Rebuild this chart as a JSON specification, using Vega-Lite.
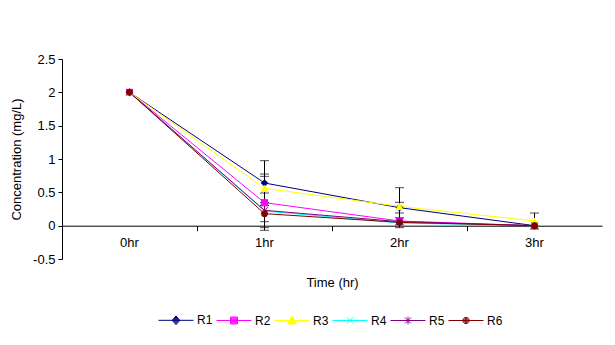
{
  "$schema": "https://vega.github.io/schema/vega-lite/v6.json",
  "width": 540,
  "height": 200,
  "autosize": "none",
  "padding": {"left": 62, "top": 59, "right": 13, "bottom": 86},
  "background": "white",
  "config": {
    "view": {"stroke": null},
    "font": "Liberation Sans",
    "axis": {"labelFont": "Liberation Sans", "titleFont": "Liberation Sans", "labelFontSize": 13, "titleFontSize": 13, "titleFontWeight": "normal", "labelColor": "black", "titleColor": "black", "domainColor": "black", "tickColor": "black", "grid": false}
  },
  "datasets": {
    "pts": [
      {"series": "R1", "time": "0hr", "conc": 2.0},
      {"series": "R1", "time": "1hr", "conc": 0.64},
      {"series": "R1", "time": "2hr", "conc": 0.27},
      {"series": "R1", "time": "3hr", "conc": 0.0},
      {"series": "R2", "time": "0hr", "conc": 2.0},
      {"series": "R2", "time": "1hr", "conc": 0.345},
      {"series": "R2", "time": "2hr", "conc": 0.07},
      {"series": "R2", "time": "3hr", "conc": 0.0},
      {"series": "R3", "time": "0hr", "conc": 2.0},
      {"series": "R3", "time": "1hr", "conc": 0.56},
      {"series": "R3", "time": "2hr", "conc": 0.29},
      {"series": "R3", "time": "3hr", "conc": 0.07},
      {"series": "R4", "time": "0hr", "conc": 2.0},
      {"series": "R4", "time": "1hr", "conc": 0.22},
      {"series": "R4", "time": "2hr", "conc": 0.04},
      {"series": "R4", "time": "3hr", "conc": 0.0},
      {"series": "R5", "time": "0hr", "conc": 2.0},
      {"series": "R5", "time": "1hr", "conc": 0.23},
      {"series": "R5", "time": "2hr", "conc": 0.06},
      {"series": "R5", "time": "3hr", "conc": 0.0},
      {"series": "R6", "time": "0hr", "conc": 2.0},
      {"series": "R6", "time": "1hr", "conc": 0.18},
      {"series": "R6", "time": "2hr", "conc": 0.05},
      {"series": "R6", "time": "3hr", "conc": 0.0}
    ],
    "err": [
      {"series": "R1", "time": "1hr", "lo": 0.305, "hi": 0.975},
      {"series": "R3", "time": "1hr", "lo": 0.345, "hi": 0.775},
      {"series": "R2", "time": "1hr", "lo": -0.07, "hi": 0.74},
      {"series": "R5", "time": "1hr", "lo": -0.03, "hi": 0.49},
      {"series": "R6", "time": "1hr", "lo": 0.06, "hi": 0.3},
      {"series": "R3", "time": "2hr", "lo": 0.01, "hi": 0.57},
      {"series": "R1", "time": "2hr", "lo": 0.19, "hi": 0.35},
      {"series": "R6", "time": "2hr", "lo": -0.03, "hi": 0.12},
      {"series": "R3", "time": "3hr", "lo": -0.05, "hi": 0.19}
    ]
  },
  "resolve": {"axis": {"x": "independent"}},
  "layer": [
    {
      "data": {"name": "pts"},
      "mark": {"type": "line", "strokeWidth": 1},
      "encoding": {
        "x": {"field": "time", "type": "nominal", "sort": ["0hr", "1hr", "2hr", "3hr"],
              "scale": {"paddingInner": 0, "paddingOuter": 0},
              "axis": {"orient": "bottom", "title": "Time (hr)", "offset": -33.3, "ticks": false, "labelAngle": 0, "labelPadding": 11, "titlePadding": 27}},
        "y": {"field": "conc", "type": "quantitative",
              "scale": {"domain": [-0.5, 2.5], "nice": false, "zero": false},
              "axis": {"title": "Concentration (mg/L)", "values": [-0.5, 0, 0.5, 1, 1.5, 2, 2.5], "tickCount": 7, "labelOverlap": false, "tickSize": 4, "labelPadding": 3, "titlePadding": 9, "labelExpr": "datum.value < 0 ? '-' + format(-datum.value, '') : format(datum.value, '')"}},
        "stroke": {"field": "series", "type": "nominal",
                   "scale": {"domain": ["R1", "R2", "R3", "R4", "R5", "R6"], "range": ["#000080", "#FF00FF", "#FFFF00", "#00FFFF", "#800080", "#800000"]}}
      }
    },
    {
      "data": {"name": "err"},
      "mark": {"type": "rule", "color": "black", "strokeWidth": 1},
      "encoding": {
        "x": {"field": "time", "type": "nominal", "sort": ["0hr", "1hr", "2hr", "3hr"],
              "axis": {"orient": "bottom", "title": null, "labels": false, "domain": false, "bandPosition": 0, "tickSize": 5, "offset": -33.3}},
        "y": {"field": "lo", "type": "quantitative"},
        "y2": {"field": "hi"}
      }
    },
    {
      "data": {"name": "err"},
      "mark": {"type": "tick", "color": "black", "size": 9, "thickness": 1},
      "encoding": {
        "x": {"field": "time", "type": "nominal", "sort": ["0hr", "1hr", "2hr", "3hr"], "axis": null},
        "y": {"field": "lo", "type": "quantitative"}
      }
    },
    {
      "data": {"name": "err"},
      "mark": {"type": "tick", "color": "black", "size": 9, "thickness": 1},
      "encoding": {
        "x": {"field": "time", "type": "nominal", "sort": ["0hr", "1hr", "2hr", "3hr"], "axis": null},
        "y": {"field": "hi", "type": "quantitative"}
      }
    },
    {
      "data": {"name": "pts"},
      "transform": [{"filter": "datum.series == 'R1'"}],
      "mark": {"type": "point", "filled": true, "size": 60, "shape": "diamond", "color": "#000080", "opacity": 1},
      "encoding": {
        "x": {"field": "time", "type": "nominal", "sort": ["0hr", "1hr", "2hr", "3hr"], "axis": null},
        "y": {"field": "conc", "type": "quantitative"}
      }
    },
    {
      "data": {"name": "pts"},
      "transform": [{"filter": "datum.series == 'R2'"}],
      "mark": {"type": "point", "filled": true, "size": 50, "shape": "square", "color": "#FF00FF", "opacity": 1},
      "encoding": {
        "x": {"field": "time", "type": "nominal", "sort": ["0hr", "1hr", "2hr", "3hr"], "axis": null},
        "y": {"field": "conc", "type": "quantitative"}
      }
    },
    {
      "data": {"name": "pts"},
      "transform": [{"filter": "datum.series == 'R3'"}],
      "mark": {"type": "point", "filled": true, "size": 70, "shape": "triangle-up", "color": "#FFFF00", "opacity": 1},
      "encoding": {
        "x": {"field": "time", "type": "nominal", "sort": ["0hr", "1hr", "2hr", "3hr"], "axis": null},
        "y": {"field": "conc", "type": "quantitative"}
      }
    },
    {
      "data": {"name": "pts"},
      "transform": [{"filter": "datum.series == 'R4'"}],
      "mark": {"type": "point", "filled": false, "size": 40, "shape": "M-1,-1L1,1M-1,1L1,-1", "color": "#00FFFF", "strokeWidth": 1, "opacity": 1},
      "encoding": {
        "x": {"field": "time", "type": "nominal", "sort": ["0hr", "1hr", "2hr", "3hr"], "axis": null},
        "y": {"field": "conc", "type": "quantitative"}
      }
    },
    {
      "data": {"name": "pts"},
      "transform": [{"filter": "datum.series == 'R5'"}],
      "mark": {"type": "point", "filled": false, "size": 40, "shape": "M-1,-1L1,1M-1,1L1,-1M0,-1.2L0,1.2", "color": "#800080", "strokeWidth": 1, "opacity": 1},
      "encoding": {
        "x": {"field": "time", "type": "nominal", "sort": ["0hr", "1hr", "2hr", "3hr"], "axis": null},
        "y": {"field": "conc", "type": "quantitative"}
      }
    },
    {
      "data": {"name": "pts"},
      "transform": [{"filter": "datum.series == 'R6'"}],
      "mark": {"type": "point", "filled": true, "size": 45, "shape": "circle", "color": "#800000", "opacity": 1},
      "encoding": {
        "x": {"field": "time", "type": "nominal", "sort": ["0hr", "1hr", "2hr", "3hr"], "axis": null},
        "y": {"field": "conc", "type": "quantitative"}
      }
    },
    {
      "data": {"name": "pts"},
      "mark": {"type": "point", "filled": true, "opacity": 0},
      "encoding": {
        "x": {"field": "time", "type": "nominal", "sort": ["0hr", "1hr", "2hr", "3hr"], "axis": null},
        "y": {"field": "conc", "type": "quantitative"},
        "fill": {"field": "series", "type": "nominal",
                 "scale": {"domain": ["R1", "R2", "R3", "R4", "R5", "R6"], "range": ["#000080", "#FF00FF", "#FFFF00", "#00FFFF", "#800080", "#800000"]}},
        "stroke": {"field": "series", "type": "nominal"},
        "shape": {"field": "series", "type": "nominal",
                  "scale": {"domain": ["R1", "R2", "R3", "R4", "R5", "R6"],
                            "range": [
                              "M-1,0H1M0,-0.25L0.22,0L0,0.25L-0.22,0ZM0,-0.19L0.165,0L0,0.19L-0.165,0ZM0,-0.13L0.11,0L0,0.13L-0.11,0ZM0,-0.07L0.055,0L0,0.07L-0.055,0ZM0,-0.02V0.02",
                              "M-1,0H1M-0.2,-0.2H0.2V0.2H-0.2ZM-0.15,-0.15H0.15V0.15H-0.15ZM-0.1,-0.1H0.1V0.1H-0.1ZM-0.05,-0.05H0.05V0.05H-0.05Z",
                              "M-1,0H1M0,-0.25L0.25,0.2H-0.25ZM0,-0.175L0.1875,0.1625H-0.1875ZM0,-0.1L0.125,0.125H-0.125ZM0,-0.025L0.0625,0.0875H-0.0625Z",
                              "M-1,0H1M-0.17,-0.17L0.17,0.17M-0.17,0.17L0.17,-0.17",
                              "M-1,0H1M-0.17,-0.17L0.17,0.17M-0.17,0.17L0.17,-0.17M0,-0.22V0.22",
                              "M-1,0H1M-0.18,0A0.18,0.18 0 1,0 0.18,0A0.18,0.18 0 1,0 -0.18,0ZM-0.13,0A0.13,0.13 0 1,0 0.13,0A0.13,0.13 0 1,0 -0.13,0ZM-0.08,0A0.08,0.08 0 1,0 0.08,0A0.08,0.08 0 1,0 -0.08,0ZM-0.03,0A0.03,0.03 0 1,0 0.03,0A0.03,0.03 0 1,0 -0.03,0Z"
                            ]},
                  "legend": {"title": null, "orient": "none", "direction": "horizontal", "legendX": 96, "legendY": 243,
                             "symbolSize": 1225, "symbolStrokeWidth": 1, "symbolOpacity": 1, "labelFont": "Liberation Sans", "labelFontSize": 12, "labelColor": "black", "labelOffset": 3, "columnPadding": 1,
                             "encode": {"symbols": {"update": {"opacity": {"value": 1}}}}}}
      }
    }
  ]
}
